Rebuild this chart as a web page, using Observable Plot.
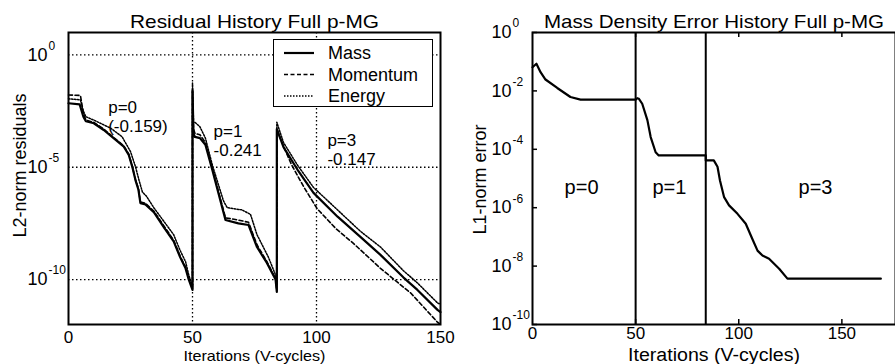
<!DOCTYPE html>
<html><head><meta charset="utf-8">
<script src="https://cdn.jsdelivr.net/npm/d3@7"></script>
<script src="https://cdn.jsdelivr.net/npm/@observablehq/plot@0.6"></script>
<style>
body{margin:0;background:#fff;}
#wrap{position:relative;width:895px;height:364px;overflow:hidden;background:#fff;font-family:"Liberation Sans",Arial,sans-serif;}
#left,#right{position:absolute;top:0;}
#left{left:0;} #right{left:450px;}
#legend{position:absolute;left:273px;top:39px;width:158px;height:66px;border:1.5px solid #000;background:#fff;}
</style></head><body>
<div id="wrap"><div id="left"></div><div id="right"></div><div id="legend"></div></div>
<script>
const FONT = '"Liberation Sans", Arial, sans-serif';

// ---------- Left chart: residual history (log10 of residual) ----------
const seriesNames = ["Mass", "Momentum", "Energy"];
const leftTitle = "Residual History Full p-MG";
const leftYLabel = "L2-norm residuals";
const xLabel = "Iterations (V-cycles)";
const leftXTicks = [0, 50, 100, 150];
const leftYTicks = [1, 1e-5, 1e-10];
const leftGridX = [50, 100];

const massX = [0, 4.5, 6, 7, 10.2, 14.2, 18.3, 22.3, 24.3, 25.7, 27, 28.2, 29, 31, 34.4, 38.4, 42.4, 45, 47.2, 48.5, 50,
  50, 50.4, 51, 53, 55.2, 58, 63.3, 68.5, 72.6, 76, 80, 83.5, 84,
  84, 86.7, 92.3, 98.8, 108.5, 117.7, 125.8, 135, 140.7, 148.8, 150];
const massLog = [-2.15, -2.2, -2.75, -2.95, -3.04, -3.34, -3.71, -4.08, -4.45, -4.97, -5.57, -6.0, -6.6, -6.65, -7.0, -7.66, -8.3, -9.0, -9.5, -10.0, -10.46,
  -1.6, -3.5, -3.65, -3.7, -4.0, -5.12, -7.35, -7.5, -7.57, -8.55, -9.26, -10.0, -10.55,
  -3.3, -4.1, -5.1, -6.14, -7.2, -8.1, -8.9, -9.9, -10.46, -11.35, -11.45];

const momentumX = [0, 4.8, 6, 7, 10.2, 14.2, 18.3, 22.3, 24.3, 25.7, 27, 28.2, 29, 31, 34.4, 38.4, 42.4, 45, 47.2, 48.5, 50,
  50, 50.4, 51, 53, 55.2, 58, 63.3, 68.5, 72.6, 76, 80, 83.5, 84,
  84, 87, 90, 95, 100.3, 108, 115, 125.8, 138, 148.8, 150];
const momentumLog = [-1.78, -1.8, -2.6, -2.9, -3.0, -3.3, -3.68, -4.05, -4.42, -4.95, -5.55, -5.95, -6.55, -6.6, -6.95, -7.6, -8.25, -8.95, -9.45, -9.95, -10.4,
  -1.5, -3.3, -3.5, -3.55, -3.9, -5.05, -7.25, -7.35, -7.45, -8.45, -9.2, -9.95, -10.5,
  -3.3, -4.15, -4.9, -5.9, -6.85, -7.75, -8.4, -9.5, -10.6, -11.9, -12.0];

const energyX = [0, 4.8, 6, 7, 10.2, 17, 21.6, 25, 27, 28.5, 29.8, 31.5, 34.4, 38.4, 42.4, 45, 47.2, 48.5, 50,
  50, 50.4, 51, 53, 55.2, 58, 62.5, 64, 70, 73.4, 76, 80.6, 83.5, 84,
  84, 86.7, 92.3, 98.8, 108.5, 117.7, 125.8, 135, 140.7, 148.8, 150];
const energyLog = [-1.95, -2.0, -2.5, -2.75, -2.9, -3.26, -3.64, -4.3, -4.97, -5.6, -6.1, -6.3, -6.8, -7.4, -8.0, -8.7, -9.2, -9.8, -10.3,
  -1.25, -3.0, -3.0, -3.2, -3.7, -4.9, -6.5, -6.8, -6.9, -7.1, -8.0, -9.0, -9.8, -10.3,
  -3.0, -3.9, -4.9, -5.9, -6.9, -7.85, -8.55, -9.6, -10.15, -11.04, -11.1];

const leftNotes = ["p=0\n(-0.159)", "p=1\n-0.241", "p=3\n-0.147"];
const leftNotesX = [16, 58.5, 104.4];
const leftNotesY = [1e-2, 9.3e-4, 3.7e-4];

// ---------- Right chart: mass density error (log10 of L1 error) ----------
const rightTitle = "Mass Density Error History Full p-MG";
const rightYLabel = "L1-norm error";
const rightXTicks = [0, 50, 100, 150];
const rightYTicks = [1, 1e-2, 1e-4, 1e-6, 1e-8, 1e-10];
const switchIters = [50, 84];
const errX = [0, 1.9, 3.9, 6.3, 12, 18.4, 23.3, 50, 50.8, 51.6, 53.2, 55.7, 57.3, 59.7, 61.2, 84, 84, 87.9, 89.7, 90.9, 92.9, 95.3, 99.4, 103.4, 106.6, 109.1, 111.5, 114.7, 119.6, 123.6, 168.9];
const errLog = [-1.19, -1.07, -1.36, -1.61, -1.9, -2.21, -2.3, -2.3, -2.25, -2.27, -2.44, -3.0, -3.58, -4.1, -4.21, -4.21, -4.38, -4.38, -4.6, -5.07, -5.64, -5.92, -6.21, -6.55, -7.07, -7.47, -7.64, -7.75, -8.09, -8.43, -8.43];
const rightNotes = ["p=0", "p=1", "p=3"];
const rightNotesX = [23.8, 66.4, 137.2];
const rightNotesY = [4.9e-6, 4.9e-6, 4.9e-6];

// ---------- build tables ----------
const toRows = (xs, logs, name) => xs.map((x, i) => ({x, y: Math.pow(10, logs[i]), series: name}));
const mass = toRows(massX, massLog, seriesNames[0]);
const momentum = toRows(momentumX, momentumLog, seriesNames[1]);
const energy = toRows(energyX, energyLog, seriesNames[2]);
const err = toRows(errX, errLog, "Mass density");
const expText = d => String(Math.round(Math.log10(d)));
const dotted = {stroke: "#000", strokeWidth: 1.3, strokeDasharray: "1.5,2.5"};

const leftPlot = Plot.plot({
  width: 460, height: 364, marginLeft: 68, marginRight: 20, marginTop: 32, marginBottom: 40,
  style: {fontFamily: FONT, fontSize: "17px", color: "#000", background: "transparent"},
  x: {domain: [0, 150]},
  y: {type: "log", domain: [1e-12, 10], axis: null},
  marks: [
    Plot.ruleX(leftGridX, {x: d => d, ...dotted}),
    Plot.ruleY(leftYTicks, {y: d => d, ...dotted}),
    Plot.line(energy, {x: "x", y: "y", stroke: "#000", strokeWidth: 1.5, strokeDasharray: "1.5,1.5"}),
    Plot.line(momentum, {x: "x", y: "y", stroke: "#000", strokeWidth: 1.6, strokeDasharray: "4,2.5"}),
    Plot.line(mass, {x: "x", y: "y", stroke: "#000", strokeWidth: 2.2}),
    Plot.frame({stroke: "#000", strokeWidth: 2}),
    Plot.axisX(leftXTicks, {tickSize: 0, tickPadding: 6, fontSize: 17, label: null}),
    Plot.text(leftYTicks, {y: d => d, text: () => "10", frameAnchor: "left", textAnchor: "start", dx: -41, fontSize: 18}),
    Plot.text(leftYTicks, {y: d => d, text: expText, frameAnchor: "left", textAnchor: "start", dx: -20, dy: -9, fontSize: 12}),
    Plot.text([leftTitle], {text: d => d, frameAnchor: "top", lineAnchor: "bottom", dy: -5, fontSize: 19}),
    Plot.text([xLabel], {text: d => d, frameAnchor: "bottom", lineAnchor: "bottom", dy: 36, fontSize: 15}),
    Plot.text([leftYLabel], {text: d => d, frameAnchor: "left", textAnchor: "middle", rotate: -90, dx: -48, dy: -13, fontSize: 18}),
    Plot.text(leftNotes, {text: d => d, x: (d, i) => leftNotesX[i], y: (d, i) => leftNotesY[i], textAnchor: "start", lineAnchor: "top", lineHeight: 1.12, fontSize: 17})
  ]
});
document.getElementById("left").appendChild(leftPlot);

const rightPlot = Plot.plot({
  width: 445, height: 364, marginLeft: 82, marginRight: 0, marginTop: 32, marginBottom: 40,
  style: {fontFamily: FONT, fontSize: "17px", color: "#000", background: "transparent"},
  x: {domain: [0, 176]},
  y: {type: "log", domain: [1e-10, 1], axis: null},
  marks: [
    Plot.ruleX(switchIters, {x: d => d, stroke: "#000", strokeWidth: 2}),
    Plot.line(err, {x: "x", y: "y", stroke: "#000", strokeWidth: 2.2}),
    Plot.tickY(rightYTicks, {y: d => d, insetRight: 358, stroke: "#000", strokeWidth: 1.5}),
    Plot.tickX(rightXTicks.slice(1), {x: d => d, insetTop: 287, stroke: "#000", strokeWidth: 1.5}),
    Plot.tickX(rightXTicks.slice(1), {x: d => d, insetBottom: 287, stroke: "#000", strokeWidth: 1.5}),
    Plot.frame({stroke: "#000", strokeWidth: 2}),
    Plot.axisX(rightXTicks, {tickSize: 0, tickPadding: 2, fontSize: 17, label: null}),
    Plot.text(rightYTicks, {y: d => d, text: () => "10", frameAnchor: "left", textAnchor: "start", dx: -41, fontSize: 18}),
    Plot.text(rightYTicks, {y: d => d, text: expText, frameAnchor: "left", textAnchor: "start", dx: -20, dy: -9, fontSize: 12}),
    Plot.text([rightTitle], {text: d => d, frameAnchor: "top", lineAnchor: "bottom", dy: -5, fontSize: 19}),
    Plot.text([xLabel], {text: d => d, frameAnchor: "bottom", lineAnchor: "bottom", dy: 36, fontSize: 18}),
    Plot.text([rightYLabel], {text: d => d, frameAnchor: "left", textAnchor: "middle", rotate: -90, dx: -52, dy: 1, fontSize: 18}),
    Plot.text(rightNotes, {text: d => d, x: (d, i) => rightNotesX[i], y: (d, i) => rightNotesY[i], textAnchor: "middle", fontSize: 20})
  ]
});
document.getElementById("right").appendChild(rightPlot);

// stretch titles / axis labels to the widths they have in the reference
function fitText(svg, str, len) {
  d3.select(svg).selectAll("text").filter(function () { return this.textContent === str; })
    .attr("textLength", len).attr("lengthAdjust", "spacingAndGlyphs");
}
fitText(leftPlot, leftTitle, 249);
fitText(leftPlot, xLabel, 142);
fitText(rightPlot, rightTitle, 340);
fitText(rightPlot, xLabel, 172);

// ---------- legend (left chart) ----------
const legendStyles = [
  {w: 2.2, dash: null},
  {w: 1.6, dash: "4,2.5"},
  {w: 1.5, dash: "1.5,1.5"}
];
const lg = d3.select("#legend").append("svg").attr("width", 158).attr("height", 66)
  .style("font-family", FONT).style("font-size", "18px");
seriesNames.forEach((name, i) => {
  const cy = 13 + i * 21.5;
  lg.append("line").attr("x1", 10).attr("x2", 40).attr("y1", cy).attr("y2", cy)
    .attr("stroke", "#000").attr("stroke-width", legendStyles[i].w)
    .attr("stroke-dasharray", legendStyles[i].dash);
  lg.append("text").attr("x", 54).attr("y", cy).attr("dy", "0.35em").text(name);
});
</script>
</body></html>
